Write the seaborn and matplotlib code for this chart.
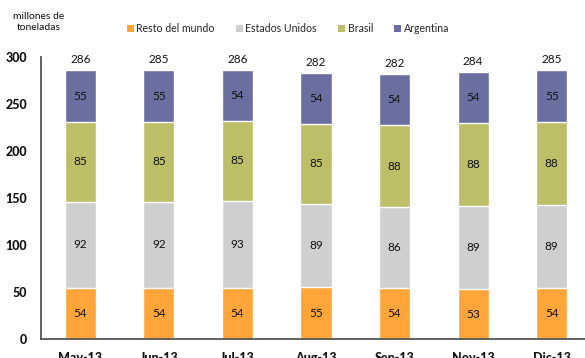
import matplotlib
matplotlib.use("Agg")
import matplotlib.pyplot as plt
import seaborn as sns
import pandas as pd
import numpy as np
from matplotlib.patches import Patch
from matplotlib.ticker import FixedLocator

# Monthly figures, millones de toneladas
meses = ["May-13", "Jun-13", "Jul-13", "Aug-13", "Sep-13", "Nov-13", "Dic-13"]
resto_del_mundo = [54, 54, 54, 55, 54, 53, 54]
estados_unidos = [92, 92, 93, 89, 86, 89, 89]
brasil = [85, 85, 85, 85, 88, 88, 88]
argentina = [55, 55, 54, 54, 54, 54, 55]
totales = [286, 285, 286, 282, 282, 284, 285]
yticks = [0, 50, 100, 150, 200, 250, 300]

series = ["Resto del mundo", "Estados Unidos", "Brasil", "Argentina"]
colores = ["#FFA53A", "#CFCFCF", "#BDBF68", "#6A6FA0"]

sns.set_theme(style="white")
plt.rcParams["font.family"] = ["Lato", "DejaVu Sans"]

df = pd.DataFrame({
    "mes": meses,
    "Resto del mundo": resto_del_mundo,
    "Estados Unidos": estados_unidos,
    "Brasil": brasil,
    "Argentina": argentina,
})
acum = df[series].cumsum(axis=1)

fig = plt.figure(figsize=(5.85, 3.58), dpi=100)
W, H = 585, 358
ax = fig.add_axes([41 / W, 19 / H, 550 / W, 282 / H])

# Stacked bars: draw cumulative heights from the top layer down
for serie, color in reversed(list(zip(series, colores))):
    sns.barplot(x=df["mes"], y=acum[serie], color=color, width=0.395,
                saturation=1, ax=ax, order=meses)

# Segment value labels and totals
for i in range(len(meses)):
    base = 0
    for serie in series:
        v = df[serie].iloc[i]
        ax.text(i, base + v / 2, f"{v}", ha="center", va="center",
                fontsize=8.5, color="#111111")
        base += v
    ax.text(i, acum["Argentina"].iloc[i] + 5, f"{totales[i]}", ha="center",
            va="bottom", fontsize=8.5, color="#111111")

ax.set_xlim(-0.5, 6.5)
ax.set_ylim(0, 300)
ax.set_yticks(yticks, [str(t) for t in yticks], fontweight=900,
              fontsize=9, color="#111111")
ax.set_xticks(range(len(meses)), meses, fontweight=900, fontsize=9,
              color="#111111")
ax.set_xlabel("")
ax.set_ylabel("")
for s in ["top", "right"]:
    ax.spines[s].set_visible(False)
for s in ["left", "bottom"]:
    ax.spines[s].set_color("#555555")
    ax.spines[s].set_linewidth(1.3)

ax.tick_params(axis="y", direction="in", length=3, width=1, color="#555555",
               pad=10)
ax.tick_params(axis="x", which="major", length=0, pad=9)
ax.xaxis.set_minor_locator(FixedLocator(np.arange(0.5, 6.5, 1)))
ax.tick_params(axis="x", which="minor", direction="out", length=3, width=1,
               color="#555555")

fig.text(39 / W, 1 - 22 / H, "millones de\ntoneladas", ha="center", va="center",
         fontsize=7.5, linespacing=1.25, color="#111111")

handles = [Patch(facecolor=c, edgecolor="none") for c in colores]
fig.legend(handles, series, loc="center left", bbox_to_anchor=(127 / W, 1 - 29 / H),
           ncol=4, frameon=False, fontsize=7.6, handlelength=0.65, handleheight=0.65,
           handletextpad=0.25, columnspacing=2.0, borderpad=0, borderaxespad=0)

fig.savefig("out.png", dpi=100)
